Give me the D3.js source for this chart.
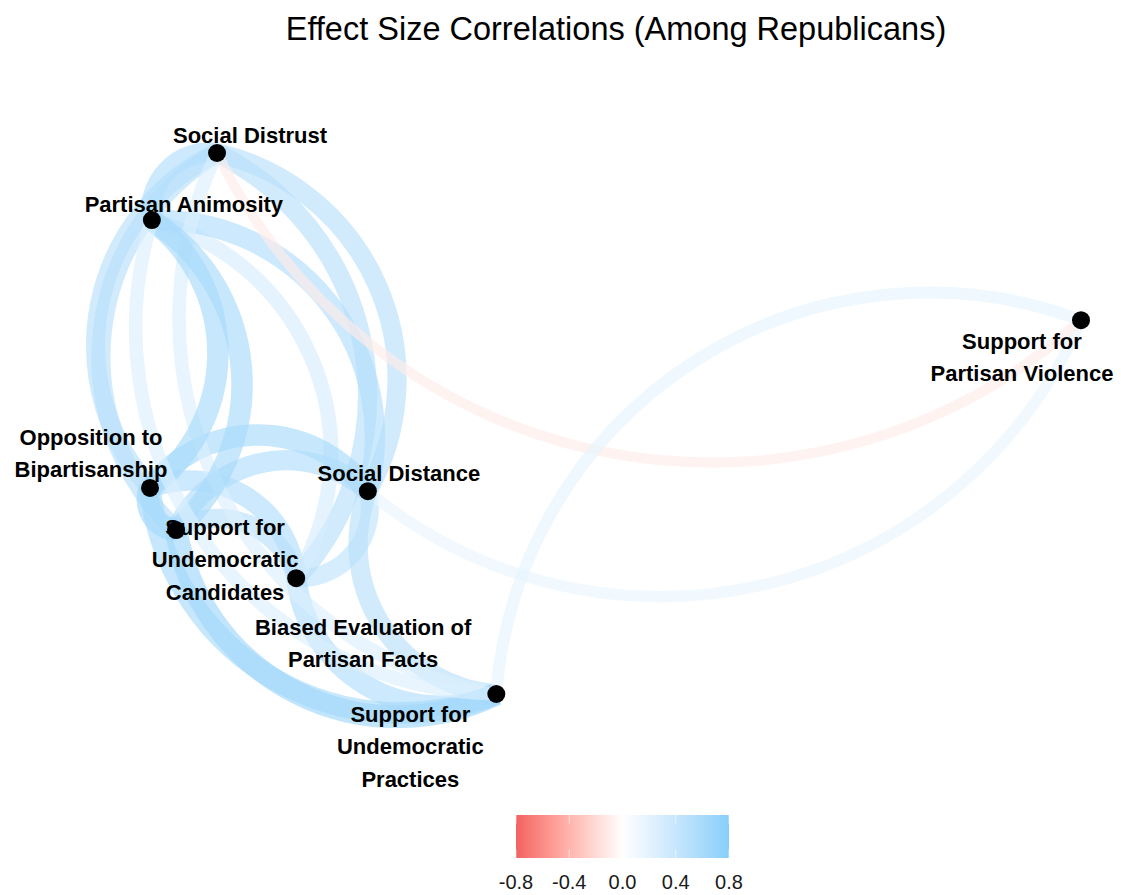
<!DOCTYPE html>
<html>
<head>
<meta charset="utf-8">
<script src="https://cdn.jsdelivr.net/npm/d3@7"></script>
<style>
  body { margin: 0; background: #ffffff; }
  svg { display: block; }
  text { font-family: "Liberation Sans", Arial, Helvetica, sans-serif; }
</style>
</head>
<body>
<svg id="chart" width="1121" height="895"></svg>
<script>
// Outcome variables, in the order of the correlation matrix
const variables = [
  "Biased Evaluation of\nPartisan Facts",
  "Social Distance",
  "Social Distrust",
  "Opposition to\nBipartisanship",
  "Support for\nUndemocratic\nCandidates",
  "Partisan Animosity",
  "Support for\nPartisan Violence",
  "Support for\nUndemocratic\nPractices"
];

// Network layout coordinates (layout units)
const layoutX = [0.157, 0.234, 0.072, 0.000, 0.028, 0.002, 1.000, 0.372];
const layoutY = [0.214, 0.375, 1.000, 0.381, 0.303, 0.876, 0.691, 0.000];

// Pairwise effect-size correlations (source index < target index);
// pairs with a negligible correlation are left out
const edgeSource = [0, 0, 0, 0, 0, 0, 1, 1, 1, 1, 1, 1, 2, 2, 2, 2, 2, 3, 3, 3, 4, 4, 5, 6];
const edgeTarget = [1, 2, 3, 4, 5, 7, 2, 3, 4, 5, 6, 7, 3, 4, 5, 6, 7, 4, 5, 7, 5, 7, 7, 7];
const edgeR      = [0.45, 0.50, 0.55, 0.50, 0.30, 0.55,
                    0.50, 0.60, 0.55, 0.55, 0.15, 0.50,
                    0.50, 0.50, 0.55, -0.10, 0.25,
                    0.65, 0.60, 0.60,
                    0.60, 0.65,
                    0.25,
                    0.18];

// Colour bar ticks
const legendTicks = [-0.8, -0.4, 0.0, 0.4, 0.8];

const title = "Effect Size Correlations (Among Republicans)";

// Label placement relative to each node (pixels: first-line centre)
const labelDx = [67, 31, 33, -59, 49, 32, -59, -86];
const labelDy = [49, -18, -18, -51, -3, -16, 21, 20];

const svg = d3.select("#chart");

const x = d3.scaleLinear().domain([0, 1]).range([150, 1081]);
const y = d3.scaleLinear().domain([0, 1]).range([694, 153]);

const color = d3.scaleLinear()
  .domain([-0.8, 0, 0.8])
  .range(["#F26262", "#FFFFFF", "#87CEFA"])
  .interpolate(d3.interpolateLab)
  .clamp(true);

const width = d3.scaleLinear().domain([0, 0.8]).range([8, 26]);

const nodes = variables.map((name, i) => ({ name, px: x(layoutX[i]), py: y(layoutY[i]) }));
const edges = edgeR.map((r, k) => ({ s: nodes[edgeSource[k]], t: nodes[edgeTarget[k]], r }));

// Circular arc, bending to the right of travel from source to target
function arcPath(e) {
  const x1 = e.s.px, y1 = e.s.py, x2 = e.t.px, y2 = e.t.py;
  const c = Math.hypot(x2 - x1, y2 - y1);
  const R = 0.625 * c; // sagitta = chord / 4
  return `M${x1},${y1}A${R},${R} 0 0 0 ${x2},${y2}`;
}

svg.append("g").attr("class", "edges")
  .selectAll("path")
  .data(edges)
  .join("path")
  .attr("d", arcPath)
  .attr("fill", "none")
  .attr("stroke", d => color(d.r))
  .attr("stroke-opacity", 0.65)
  .attr("stroke-width", d => width(Math.abs(d.r)));

svg.append("g").attr("class", "nodes")
  .selectAll("circle")
  .data(nodes)
  .join("circle")
  .attr("cx", d => d.px)
  .attr("cy", d => d.py)
  .attr("r", 9)
  .attr("fill", "#000");

const lineH = 32.5;
const labels = svg.append("g").attr("class", "labels")
  .selectAll("text")
  .data(nodes)
  .join("text")
  .attr("x", (d, i) => d.px + labelDx[i])
  .attr("y", (d, i) => d.py + labelDy[i])
  .attr("text-anchor", "middle")
  .attr("font-size", 22)
  .attr("font-weight", "bold")
  .attr("fill", "#000");

labels.each(function (d, i) {
  const t = d3.select(this);
  d.name.split("\n").forEach((line, j) => {
    t.append("tspan")
      .attr("x", d.px + labelDx[i])
      .attr("y", d.py + labelDy[i] + j * lineH)
      .attr("dy", "0.35em")
      .text(line);
  });
});

svg.append("text")
  .attr("x", 616)
  .attr("y", 40)
  .attr("text-anchor", "middle")
  .attr("font-size", 32.5)
  .attr("fill", "#000")
  .text(title);

// Colour bar legend
const lx = d3.scaleLinear().domain([-0.8, 0.8]).range([516, 729]);
const barTop = 815, barH = 43;
const grad = svg.append("defs").append("linearGradient")
  .attr("id", "bar").attr("x1", "0%").attr("x2", "100%");
d3.range(0, 1.0001, 0.05).forEach(f => {
  grad.append("stop")
    .attr("offset", (f * 100) + "%")
    .attr("stop-color", color(-0.8 + 1.6 * f));
});
svg.append("rect")
  .attr("x", lx(-0.8)).attr("y", barTop)
  .attr("width", lx(0.8) - lx(-0.8)).attr("height", barH)
  .attr("fill", "url(#bar)");

const tickG = svg.append("g");
legendTicks.forEach(v => {
  tickG.append("line")
    .attr("x1", lx(v)).attr("x2", lx(v))
    .attr("y1", barTop).attr("y2", barTop + barH / 5)
    .attr("stroke", "#fff").attr("stroke-opacity", 0.6);
  tickG.append("line")
    .attr("x1", lx(v)).attr("x2", lx(v))
    .attr("y1", barTop + barH - barH / 5).attr("y2", barTop + barH)
    .attr("stroke", "#fff").attr("stroke-opacity", 0.6);
});

svg.append("g")
  .selectAll("text")
  .data(legendTicks)
  .join("text")
  .attr("x", d => lx(d))
  .attr("y", 882)
  .attr("dy", "0.35em")
  .attr("text-anchor", "middle")
  .attr("font-size", 20)
  .attr("fill", "#1a1a1a")
  .text(d => d.toFixed(1));
</script>
</body>
</html>
